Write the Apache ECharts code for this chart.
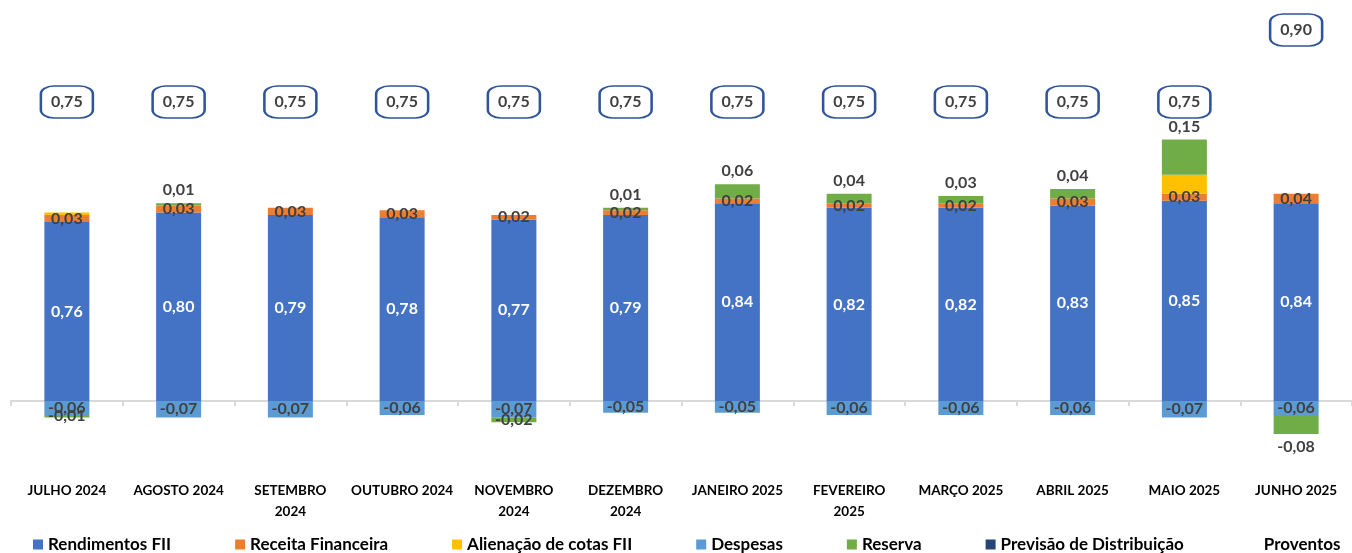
<!DOCTYPE html>
<html>
<head>
<meta charset="utf-8">
<title>Composição dos proventos</title>
<script src="https://cdn.jsdelivr.net/npm/echarts@6/dist/echarts.min.js"></script>
<style>
    html, body { margin: 0; padding: 0; background: #fff; }
    #divChart { width: 1352px; height: 553px; }
</style>
</head>
<body>
<div id="divChart"></div>
<script>
// categorias (meses)
var meses = ['JULHO 2024', 'AGOSTO 2024', 'SETEMBRO\n2024', 'OUTUBRO 2024', 'NOVEMBRO\n2024', 'DEZEMBRO\n2024',
    'JANEIRO 2025', 'FEVEREIRO\n2025', 'MARÇO 2025', 'ABRIL 2025', 'MAIO 2025', 'JUNHO 2025'];

// valores por componente
var rendimentos = [0.76, 0.80, 0.79, 0.78, 0.77, 0.79, 0.84, 0.82, 0.82, 0.83, 0.85, 0.84];
var receita = [0.03, 0.03, 0.03, 0.03, 0.02, 0.02, 0.02, 0.02, 0.02, 0.03, 0.03, 0.04];
var alienacao = [0.01, 0, 0, 0, 0, 0, 0, 0, 0, 0, 0.08, 0];
var despesas = [-0.06, -0.07, -0.07, -0.06, -0.07, -0.05, -0.05, -0.06, -0.06, -0.06, -0.07, -0.06];
var reserva = [-0.01, 0.01, 0, 0, -0.02, 0.01, 0.06, 0.04, 0.03, 0.04, 0.15, -0.08];
var previsao = [];
var proventos = [0.75, 0.75, 0.75, 0.75, 0.75, 0.75, 0.75, 0.75, 0.75, 0.75, 0.75, 0.90];

var fonte = 'Lato, "Noto Sans", sans-serif';

function fmt(v) {
    return v.toFixed(2).replace('.', ',');
}

var chart = echarts.init(document.getElementById('divChart'));

// rotulo da reserva: acima se positivo, abaixo se negativo (pequenos ficam no meio)
var reservaData = reserva.map(function (v) {
    var pos = 'top';
    if (v < 0) {
        pos = v > -0.05 ? 'inside' : 'bottom';
    }
    return {
        value: v === 0 ? null : v,
        label: { position: pos }
    };
});

var option = {
    animation: false,
    textStyle: { fontFamily: fonte },
    grid: { left: 11, right: 0, top: 10, bottom: 83, containLabel: false, outerBoundsMode: 'none' },
    legend: {
        left: 33,
        top: 536,
        width: 1319,
        padding: 0,
        icon: 'rect',
        itemWidth: 10,
        itemHeight: 10,
        itemGap: 64,
        textStyle: { fontFamily: fonte, fontWeight: 'bold', fontSize: 17, color: '#000' },
        data: ['Rendimentos FII', 'Receita Financeira', 'Alienação de cotas FII', 'Despesas', 'Reserva',
            'Previsão de Distribuição', { name: 'Proventos', itemStyle: { opacity: 0 } }]
    },
    xAxis: {
        type: 'category',
        data: meses,
        axisLine: { onZero: true, lineStyle: { color: '#d9d9d9', width: 2 } },
        axisTick: { show: true, length: 5, lineStyle: { color: '#d9d9d9', width: 2 } },
        axisLabel: {
            interval: 0,
            margin: 10,
            fontFamily: fonte,
            fontWeight: 'bold',
            fontSize: 13.5,
            lineHeight: 21,
            color: '#000'
        }
    },
    yAxis: [{
        type: 'value',
        show: false,
        min: -0.293,
        max: 1.66,
        splitLine: { show: false }
    }, {
        type: 'value',
        show: false,
        min: -0.0167,
        max: 0.9417,
        splitLine: { show: false }
    }],
    series: [{
        name: 'Rendimentos FII',
        type: 'bar',
        stack: 'total',
        barWidth: 45,
        itemStyle: { color: '#4472C4' },
        label: {
            show: true,
            position: 'inside',
            color: '#fff',
            fontFamily: fonte,
            fontWeight: 'bold',
            fontSize: 16,
            formatter: function (p) { return fmt(p.value); }
        },
        data: rendimentos
    }, {
        name: 'Receita Financeira',
        type: 'bar',
        stack: 'total',
        itemStyle: { color: '#ED7D31' },
        label: {
            show: true,
            position: 'inside',
            color: '#404040',
            fontFamily: fonte,
            fontWeight: 'bold',
            fontSize: 16,
            formatter: function (p) { return fmt(p.value); }
        },
        data: receita
    }, {
        name: 'Alienação de cotas FII',
        type: 'bar',
        stack: 'total',
        itemStyle: { color: '#FFC000' },
        label: { show: false },
        data: alienacao
    }, {
        name: 'Despesas',
        type: 'bar',
        stack: 'total',
        itemStyle: { color: '#5B9BD5' },
        label: {
            show: true,
            position: 'inside',
            color: '#404040',
            fontFamily: fonte,
            fontWeight: 'bold',
            fontSize: 16,
            formatter: function (p) { return fmt(p.value); }
        },
        data: despesas
    }, {
        name: 'Reserva',
        type: 'bar',
        stack: 'total',
        itemStyle: { color: '#70AD47' },
        label: {
            show: true,
            distance: 5,
            color: '#404040',
            fontFamily: fonte,
            fontWeight: 'bold',
            fontSize: 16,
            formatter: function (p) { return fmt(p.value); }
        },
        data: reservaData
    }, {
        name: 'Previsão de Distribuição',
        type: 'bar',
        stack: 'total',
        itemStyle: { color: '#264478' },
        data: previsao
    }, {
        name: 'Proventos',
        type: 'scatter',
        yAxisIndex: 1,
        symbol: 'roundRect',
        symbolSize: [52, 32],
        itemStyle: { color: '#fff', borderColor: '#2F5597', borderWidth: 2, opacity: 1 },
        label: {
            show: true,
            position: 'inside',
            color: '#404040',
            fontFamily: fonte,
            fontWeight: 'bold',
            fontSize: 16,
            formatter: function (p) { return fmt(p.value); }
        },
        data: proventos
    }]
};
chart.setOption(option);
</script>
</body>
</html>
